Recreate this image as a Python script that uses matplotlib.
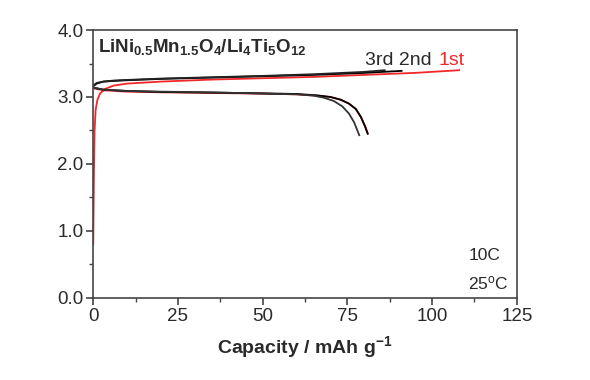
import matplotlib
matplotlib.use("Agg")
import matplotlib.pyplot as plt
from matplotlib.ticker import MultipleLocator

plt.rcParams['font.family'] = ['Liberation Sans', 'DejaVu Sans']
plt.rcParams['mathtext.fontset'] = 'custom'
plt.rcParams['mathtext.rm'] = 'Liberation Sans'
plt.rcParams['mathtext.bf'] = 'Liberation Sans:bold'
plt.rcParams['mathtext.it'] = 'Liberation Sans:italic'

# Charge curves
charge1_x = [0, 0.2, 0.4, 0.7, 1.2, 2, 3.5, 6, 10, 20, 35, 50, 65, 80, 95, 108]
charge1_y = [0.8, 1.8, 2.5, 2.8, 2.95, 3.05, 3.12, 3.17, 3.20, 3.23, 3.26, 3.28, 3.30, 3.33, 3.36, 3.40]
charge2_x = [0, 1, 3, 6, 10, 20, 35, 50, 65, 80, 91]
charge2_y = [3.16, 3.20, 3.23, 3.24, 3.25, 3.27, 3.29, 3.31, 3.33, 3.36, 3.39]
charge3_x = [0, 1, 3, 6, 10, 20, 35, 50, 65, 80, 86]
charge3_y = [3.17, 3.21, 3.23, 3.245, 3.255, 3.275, 3.295, 3.315, 3.34, 3.375, 3.40]

# Discharge curves
dis1_x = [0, 3, 10, 20, 35, 50, 60, 66, 70, 73, 75.5, 77.5, 79, 80.2, 81]
dis1_y = [3.13, 3.10, 3.08, 3.07, 3.06, 3.05, 3.04, 3.02, 3.00, 2.96, 2.90, 2.82, 2.70, 2.57, 2.46]
dis2_x = [0, 3, 10, 20, 35, 50, 60, 66, 70, 73, 75.5, 77.5, 79, 80.2, 81]
dis2_y = [3.14, 3.11, 3.09, 3.075, 3.065, 3.055, 3.045, 3.025, 3.00, 2.96, 2.90, 2.82, 2.70, 2.56, 2.45]
dis3_x = [0, 3, 10, 20, 35, 50, 60, 65, 68, 71, 73.5, 75.5, 77, 78.5]
dis3_y = [3.14, 3.11, 3.09, 3.08, 3.07, 3.05, 3.04, 3.02, 2.99, 2.94, 2.86, 2.75, 2.62, 2.43]

x_ticks = [0, 25, 50, 75, 100, 125]
y_ticks = [0.0, 1.0, 2.0, 3.0, 4.0]
y_tick_labels = ["0.0", "1.0", "2.0", "3.0", "4.0"]

fig = plt.figure(figsize=(5.9, 3.8), dpi=100)
ax = fig.add_axes([0.158, 0.216, 0.718, 0.705])

red = '#f0282a'
lw = 1.3
ax.plot(charge1_x, charge1_y, color=red, lw=lw)
ax.plot(dis1_x, dis1_y, color=red, lw=lw)
ax.plot(charge2_x, charge2_y, color='black', lw=lw)
ax.plot(dis2_x, dis2_y, color='black', lw=lw)
ax.plot(charge3_x, charge3_y, color='#222222', lw=lw)
ax.plot(dis3_x, dis3_y, color='#333333', lw=lw)

ax.set_xlim(0, 125)
ax.set_ylim(0, 4.0)
ax.set_xticks(x_ticks)
ax.set_yticks(y_ticks)
ax.set_yticklabels(y_tick_labels)
ax.xaxis.set_minor_locator(MultipleLocator(12.5))
ax.yaxis.set_minor_locator(MultipleLocator(0.5))
ax.tick_params(axis='both', which='major', direction='out', length=5, width=1.2,
               labelsize=13.5, colors='#444444', labelcolor='#2a2a2a', pad=2)
ax.tick_params(axis='both', which='minor', direction='out', length=3, width=1.0, colors='#444444')
ax.tick_params(top=False, right=False, which='both')
for s in ax.spines.values():
    s.set_color('#444444')
    s.set_linewidth(1.2)

ax.set_xlabel(r"Capacity / mAh g$^{\mathbf{-1}}$", fontsize=14, fontweight='bold', color='#2a2a2a', labelpad=7)

ax.text(1.5, 3.9, r"$\mathbf{LiNi_{0.5}Mn_{1.5}O_4/Li_4Ti_5O_{12}}$", fontsize=13.5,
        va='top', ha='left', color='#2a2a2a')
ax.text(100, 3.42, "3rd 2nd", fontsize=14, color='#2a2a2a', ha='right', va='bottom')
ax.text(102, 3.42, "1st", fontsize=14, color=red, ha='left', va='bottom')
ax.text(115.5, 0.64, "10C", fontsize=12.5, color='#2a2a2a', ha='center', va='center')
ax.text(116.5, 0.22, r"25$^\mathrm{o}$C", fontsize=12.5, color='#2a2a2a', ha='center', va='center')

fig.savefig("out.png", dpi=100, facecolor='white')
